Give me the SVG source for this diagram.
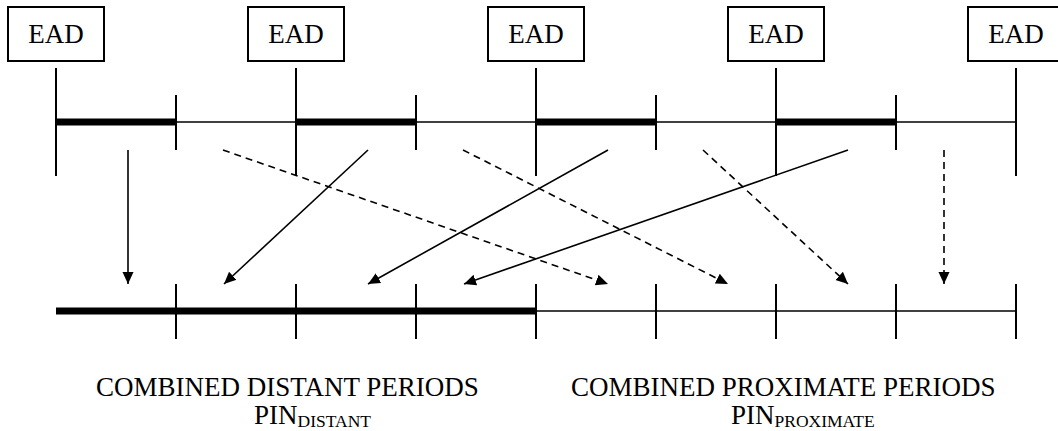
<svg xmlns="http://www.w3.org/2000/svg" width="1058" height="431" viewBox="0 0 1058 431">
<style>
.box{fill:#fff;stroke:#000;stroke-width:2}
.lbl{font-family:"Liberation Serif","Times New Roman",serif;font-size:27px;fill:#000}
.sub{font-size:17.5px}
.tick{stroke:#000;stroke-width:2}
.thin{stroke:#000;stroke-width:1.6}
.thick{stroke:#000;stroke-width:7}
.arr{stroke:#000;stroke-width:1.6;fill:none;marker-end:url(#ah)}
.dash{stroke-dasharray:7 5}
</style>
<defs>
<marker id="ah" markerUnits="userSpaceOnUse" markerWidth="14" markerHeight="14" viewBox="0 0 14 14" refX="12" refY="7" orient="auto">
<path d="M0,1.5 L12,7 L0,12.5 Z" fill="#000" stroke="none"/>
</marker>
</defs>
<rect width="1058" height="431" fill="#fff"/>
<g id="ead1"><rect class="box" x="8" y="7" width="96" height="54"/><text class="lbl" x="56" y="43" text-anchor="middle">EAD</text></g>
<g id="ead2"><rect class="box" x="248" y="7" width="96" height="54"/><text class="lbl" x="296" y="43" text-anchor="middle">EAD</text></g>
<g id="ead3"><rect class="box" x="488" y="7" width="96" height="54"/><text class="lbl" x="536" y="43" text-anchor="middle">EAD</text></g>
<g id="ead4"><rect class="box" x="728" y="7" width="96" height="54"/><text class="lbl" x="776" y="43" text-anchor="middle">EAD</text></g>
<g id="ead5"><rect class="box" x="968" y="7" width="96" height="54"/><text class="lbl" x="1016" y="43" text-anchor="middle">EAD</text></g>
<g id="top-timeline">
<line class="thin" x1="56" y1="122" x2="1016" y2="122"/>
<line class="thick" x1="56" y1="122" x2="176" y2="122"/>
<line class="thick" x1="296" y1="122" x2="416" y2="122"/>
<line class="thick" x1="536" y1="122" x2="656" y2="122"/>
<line class="thick" x1="776" y1="122" x2="896" y2="122"/>
<line class="tick" x1="56" y1="68" x2="56" y2="176"/>
<line class="tick" x1="296" y1="68" x2="296" y2="176"/>
<line class="tick" x1="536" y1="68" x2="536" y2="176"/>
<line class="tick" x1="776" y1="68" x2="776" y2="176"/>
<line class="tick" x1="1016" y1="68" x2="1016" y2="176"/>
<line class="tick" x1="176" y1="95" x2="176" y2="150"/>
<line class="tick" x1="416" y1="95" x2="416" y2="150"/>
<line class="tick" x1="656" y1="95" x2="656" y2="150"/>
<line class="tick" x1="896" y1="95" x2="896" y2="150"/>
</g>
<g id="bottom-timeline">
<line class="thin" x1="536" y1="311" x2="1016" y2="311"/>
<line class="thick" x1="56" y1="311" x2="536" y2="311"/>
<line class="tick" x1="176" y1="284" x2="176" y2="339"/>
<line class="tick" x1="296" y1="284" x2="296" y2="339"/>
<line class="tick" x1="416" y1="284" x2="416" y2="339"/>
<line class="tick" x1="536" y1="284" x2="536" y2="339"/>
<line class="tick" x1="656" y1="284" x2="656" y2="339"/>
<line class="tick" x1="776" y1="284" x2="776" y2="339"/>
<line class="tick" x1="896" y1="284" x2="896" y2="339"/>
<line class="tick" x1="1016" y1="284" x2="1016" y2="339"/>
</g>
<g id="connectors">
<line class="arr" x1="128" y1="150" x2="128" y2="284"/>
<line class="arr" x1="368" y1="150" x2="224" y2="284"/>
<line class="arr" x1="608" y1="150" x2="368" y2="284"/>
<line class="arr" x1="848" y1="150" x2="464" y2="284"/>
<line class="arr dash" x1="223" y1="150" x2="608" y2="284"/>
<line class="arr dash" x1="463" y1="150" x2="728" y2="284"/>
<line class="arr dash" x1="703" y1="150" x2="848" y2="284"/>
<line class="arr dash" x1="944" y1="150" x2="944" y2="284"/>
</g>
<g id="labels">
<text class="lbl" x="96" y="396">COMBINED DISTANT PERIODS</text>
<text class="lbl" x="254" y="424">PIN<tspan class="sub" dy="3">DISTANT</tspan></text>
<text class="lbl" x="571" y="396">COMBINED PROXIMATE PERIODS</text>
<text class="lbl" x="731" y="424">PIN<tspan class="sub" dy="3">PROXIMATE</tspan></text>
</g>
</svg>
